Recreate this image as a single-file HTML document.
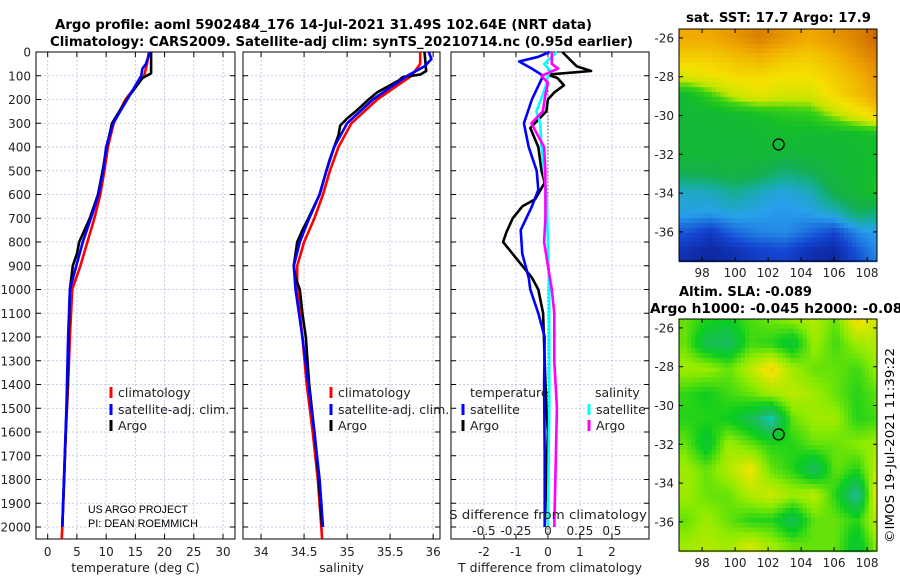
<!DOCTYPE html>
<html><head><meta charset="utf-8"><style>
html,body{margin:0;padding:0;background:#fff;}
svg{display:block;font-family:"DejaVu Sans","Liberation Sans",sans-serif;}
</style></head><body>
<svg id="s" width="900" height="580" viewBox="0 0 900 580" xmlns="http://www.w3.org/2000/svg">
<rect width="900" height="580" fill="#fff"/>
<g font-weight="bold" font-size="13" fill="#000">
<text x="55" y="29" textLength="537" lengthAdjust="spacingAndGlyphs">Argo profile: aoml 5902484_176 14-Jul-2021 31.49S 102.64E (NRT data)</text>
<text x="50" y="46" textLength="583" lengthAdjust="spacingAndGlyphs">Climatology: CARS2009. Satellite-adj clim: synTS_20210714.nc (0.95d earlier)</text>
</g>
<g id="panels"></g>
<g id="maps"></g>
<text x="686" y="22" font-weight="bold" font-size="13" textLength="185" lengthAdjust="spacingAndGlyphs">sat. SST: 17.7 Argo: 17.9</text>
<text x="679" y="296" font-weight="bold" font-size="13" textLength="133" lengthAdjust="spacingAndGlyphs">Altim. SLA: -0.089</text>
<text x="650" y="313" font-weight="bold" font-size="13" textLength="262" lengthAdjust="spacingAndGlyphs">Argo h1000: -0.045 h2000: -0.082</text>
<text transform="translate(894,543) rotate(-90)" font-size="12" textLength="195" lengthAdjust="spacingAndGlyphs">©IMOS 19-Jul-2021 11:39:22</text>
<g font-family="Liberation Sans, sans-serif" font-size="11" fill="#000">
<text x="88" y="513" textLength="100" lengthAdjust="spacingAndGlyphs">US ARGO PROJECT</text>
<text x="88" y="527" textLength="110" lengthAdjust="spacingAndGlyphs">PI: DEAN ROEMMICH</text>
</g>
</svg>
<script>
// ---------- data ----------
const depthTicks=[0,100,200,300,400,500,600,700,800,900,1000,1100,1200,1300,1400,1500,1600,1700,1800,1900,2000];
const tempTicks=[0,5,10,15,20,25,30];
const salTicks=[34,34.5,35,35.5,36];
const salTickLabels=["34","34.5","35","35.5","36"];
const tdiffTicks=[-2,-1,0,1,2];
const sdiffTicks=[-0.5,-0.25,0,0.25,0.5];
const sdiffLabels=["-0.5","-0.25","0","0.25","0.5"];

const tArgoDepth=[0,90,100,110,140,200,300,400,500,600,700,750,800,850,900,1000,1100,1200,1400,1600,1800,2000];
const tArgoVal=[17.7,17.7,16.9,16.2,15.3,13.5,11.0,10.1,9.4,8.6,7.2,6.3,5.4,5.0,4.3,3.8,3.7,3.6,3.4,3.1,2.8,2.5];
const tClimDepth=[0,50,100,200,300,400,500,600,700,800,900,1000,1200,1400,1600,1800,2000,2050];
const tClimVal=[17.3,17.0,16.5,13.3,11.3,10.3,9.7,9.0,8.0,6.8,5.6,4.2,3.8,3.5,3.1,2.8,2.5,2.4];
const tSatDepth=[0,50,70,100,200,300,400,500,600,700,800,900,1000,1200,1500,2000];
const tSatVal=[17.5,16.8,16.2,16.0,13.6,11.2,10.0,9.5,8.7,7.4,6.0,4.9,3.8,3.5,3.2,2.5];

const sArgoDepth=[0,80,95,105,120,170,200,250,280,310,350,400,450,500,600,700,750,800,900,950,1000,1100,1200,1400,1600,1800,2000];
const sArgoVal=[35.9,35.92,35.85,35.65,35.6,35.35,35.25,35.1,35.0,34.92,34.9,34.85,34.8,34.76,34.68,34.55,34.48,34.42,34.38,34.4,34.45,34.48,34.52,34.56,34.62,34.67,34.71];
const sClimDepth=[0,50,100,150,200,300,400,500,600,700,800,900,1000,1200,1400,1600,1800,2000,2050];
const sClimVal=[35.85,35.85,35.75,35.55,35.35,35.05,34.9,34.8,34.72,34.62,34.5,34.42,34.42,34.48,34.53,34.6,34.66,34.7,34.71];
const sSatDepth=[0,30,60,100,150,200,300,400,500,600,700,800,900,1000,1200,1400,1600,1800,2000];
const sSatVal=[35.95,35.98,35.9,35.7,35.5,35.3,35.0,34.85,34.76,34.68,34.56,34.45,34.38,34.4,34.48,34.55,34.62,34.68,34.72];

const dtArgoDepth=[0,60,80,95,110,140,170,200,250,320,400,500,550,620,650,700,760,800,850,900,950,1000,1100,1300,1500,1600,1800,2000];
const dtArgoVal=[0.45,0.9,1.35,0.0,0.3,0.5,0.2,0.0,-0.05,-0.55,-0.3,-0.2,-0.1,-0.4,-0.8,-1.1,-1.3,-1.4,-1.1,-0.8,-0.5,-0.3,-0.15,-0.1,-0.05,0.0,-0.05,-0.1];
const dtSatDepth=[0,20,40,70,100,200,300,400,500,580,650,750,850,950,1000,1100,1200,1400,1700,2000];
const dtSatVal=[0.05,-0.3,-0.9,-0.5,-0.15,-0.5,-0.75,-0.6,-0.35,-0.3,-0.5,-0.85,-0.8,-0.6,-0.55,-0.3,-0.1,-0.12,-0.1,-0.1];
const dsSatDepth=[0,50,80,100,150,250,300,400,600,800,1000,1500,2000];
const dsSatVal=[0.07,-0.03,0.02,0.0,-0.02,-0.09,-0.06,-0.05,-0.01,0.0,0.01,0.01,0.0];
const dsArgoDepth=[0,50,70,100,130,180,250,300,400,500,700,800,900,1000,1100,1300,1500,2000];
const dsArgoVal=[0.03,0.03,0.08,-0.05,0.0,-0.02,-0.04,-0.13,-0.03,-0.02,-0.02,-0.03,0.0,0.03,0.05,0.05,0.07,0.05];

// map fields (coarse grids)
const sstLon=[97,98.5,100,101.5,103,104.5,106,107.5,109];
const sstLat=[-26,-27,-28,-29,-30,-31,-32,-33,-34,-35,-36,-37,-38];
const sstGrid=[
[6.5,6.5,6.8,7.2,6.8,6.5,6.8,7.2,7.8],
[6.0,6.0,6.2,6.4,6.1,6.0,6.3,6.8,7.3],
[5.4,5.6,5.8,5.8,5.7,5.7,6.0,6.4,7.0],
[4.0,4.6,5.2,5.5,5.3,5.3,5.8,6.2,6.8],
[3.9,3.9,4.0,4.2,4.4,4.5,5.0,5.5,6.0],
[3.9,3.9,3.9,4.0,4.1,4.0,4.0,4.1,4.3],
[3.9,3.9,3.8,3.9,3.8,3.9,3.9,4.0,4.2],
[3.4,3.5,3.7,3.5,3.0,3.3,3.8,4.0,4.3],
[2.3,2.4,2.8,2.4,2.1,2.4,3.5,3.9,4.6],
[2.1,2.0,2.2,2.0,1.9,2.0,2.4,3.3,3.0],
[1.2,0.8,1.4,1.7,1.8,1.4,1.0,1.8,2.1],
[0.6,0.4,0.6,0.9,1.0,0.6,0.4,1.2,2.0],
[0.5,0.4,0.6,0.8,0.9,0.5,0.4,1.0,1.8]];
const slaLon=[97,98.3,99.6,100.9,102.2,103.5,104.8,106.1,107.4,108.7];
const slaLat=[-25.5,-26.8,-28.1,-29.4,-30.7,-32.0,-33.3,-34.6,-35.9,-37.2];
const slaGrid=[
[2.7,2.2,2.0,2.5,2.8,3.2,3.4,2.7,4.3,3.6],
[2.7,1.3,1.1,2.4,2.2,1.6,3.2,2.4,3.2,3.4],
[3.2,3.2,2.7,3.5,4.3,3.2,2.7,2.7,2.4,3.2],
[2.3,2.0,2.4,2.7,3.2,3.5,3.2,2.7,2.2,2.7],
[2.2,2.2,2.0,1.4,0.3,2.7,3.2,3.2,2.2,2.4],
[2.7,1.6,3.2,2.7,2.2,2.2,2.7,2.7,3.0,3.2],
[3.2,2.7,3.4,4.1,2.7,2.2,1.1,2.7,2.2,3.7],
[3.2,2.7,2.7,3.4,3.7,3.2,3.5,2.2,0.5,4.5],
[2.7,3.2,2.7,2.2,2.2,1.3,2.7,2.7,2.2,3.7],
[3.2,3.4,3.2,3.7,3.2,2.7,2.7,2.7,1.6,3.2]];
const mapLonTicks=[98,100,102,104,106,108];
const mapLatTicks=[-26,-28,-30,-32,-34,-36];
const argoLon=102.64, argoLat=-31.49;

// ---------- drawing ----------
const NS="http://www.w3.org/2000/svg";
const P=document.getElementById('panels');
const M=document.getElementById('maps');
function mk(tag,attrs,parent){const e=document.createElementNS(NS,tag);for(const k in attrs)e.setAttribute(k,attrs[k]);(parent||P).appendChild(e);return e;}
const top0=52,bot0=539;
const yD=d=>top0+d*(527-top0)/2000;
const panels=[
 {x0:36,x1:235,lo:-2,hi:32.05,ticks:tempTicks,labels:tempTicks.map(String),title:"temperature (deg C)",name:"temperature"},
 {x0:243,x1:440,lo:33.79,hi:36.08,ticks:salTicks,labels:salTickLabels,title:"salinity",name:"salinity"},
 {x0:451,x1:649,lo:-3.03,hi:3.16,ticks:tdiffTicks,labels:tdiffTicks.map(String),title:"T difference from climatology",name:"difference"}];
panels.forEach(p=>{p.x=v=>p.x0+(v-p.lo)*(p.x1-p.x0)/(p.hi-p.lo);});

panels.forEach((p,i)=>{
 const g=mk('g',{});
 
 
 depthTicks.forEach(d=>{
  const y=yD(d);
  const l=mk('line',{x1:p.x0,x2:p.x1,y1:y,y2:y,stroke:'#b8c0e0','stroke-width':0.8,'stroke-dasharray':'2,2'},g);
  
  
  mk('line',{x1:p.x0,x2:p.x0+5,y1:y,y2:y,stroke:'#000','stroke-width':1},g);
  mk('line',{x1:p.x1-5,x2:p.x1,y1:y,y2:y,stroke:'#000','stroke-width':1},g);
  if(i===0){const t=mk('text',{x:31,y:y+4.5,'text-anchor':'end','font-size':12,fill:'#222'},g);t.textContent=d;
   }
 });
 p.ticks.forEach((v,k)=>{
  const x=p.x(v);
  const l=mk('line',{x1:x,x2:x,y1:top0,y2:bot0,stroke:'#b8c0e0','stroke-width':0.8,'stroke-dasharray':'2,2'},g);
  
  
  mk('line',{x1:x,x2:x,y1:bot0-5,y2:bot0,stroke:'#000'},g);
  mk('line',{x1:x,x2:x,y1:top0,y2:top0+5,stroke:'#000'},g);
  const t=mk('text',{x:x,y:556,'text-anchor':'middle','font-size':12,fill:'#222'},g);t.textContent=p.labels[k];
  
 });
 const tt=mk('text',{x:(p.x0+p.x1)/2,y:572,'text-anchor':'middle','font-size':12.5,fill:'#222'},g);tt.textContent=p.title;
 
 const fr=mk('rect',{x:p.x0,y:top0,width:p.x1-p.x0,height:bot0-top0,fill:'none',stroke:'#000','stroke-width':1},g);
 
});

function series(p,depths,vals,color,name,scale){
 const pts=depths.map((d,i)=>p.x(vals[i]*(scale||1)).toFixed(1)+','+yD(d).toFixed(1)).join(' ');
 const l=mk('polyline',{points:pts,fill:'none',stroke:color,'stroke-width':2.6,'stroke-linejoin':'round'});
 
 
}
const zx=panels[2].x(0);
mk('line',{x1:zx,x2:zx,y1:top0,y2:bot0,stroke:'#555','stroke-width':1,'stroke-dasharray':'1.5,2'});
series(panels[0],tClimDepth,tClimVal,'#f00','temp-climatology-line');
series(panels[0],tArgoDepth,tArgoVal,'#000','temp-argo-line');
series(panels[0],tSatDepth,tSatVal,'#00f','temp-satellite-line');
series(panels[1],sClimDepth,sClimVal,'#f00','sal-climatology-line');
series(panels[1],sArgoDepth,sArgoVal,'#000','sal-argo-line');
series(panels[1],sSatDepth,sSatVal,'#00f','sal-satellite-line');
series(panels[2],dtArgoDepth,dtArgoVal,'#000','tdiff-argo-line');
series(panels[2],dtSatDepth,dtSatVal,'#00f','tdiff-satellite-line');
series(panels[2],dsSatDepth,dsSatVal,'#0ff','sdiff-satellite-line',4);
series(panels[2],dsArgoDepth,dsArgoVal,'#f0f','sdiff-argo-line',4);

const sl=mk('text',{x:449,y:519,'font-size':12.5,fill:'#222',textLength:198,lengthAdjust:'spacingAndGlyphs'});sl.textContent='S difference from climatology';

sdiffTicks.forEach((v,k)=>{const t=mk('text',{x:panels[2].x(v*4),y:535,'text-anchor':'middle','font-size':12,fill:'#222'});t.textContent=sdiffLabels[k];
 });

function legend(x,y,color,label){
 const g=mk('g',{});
 
 
 mk('line',{x1:x,x2:x,y1:y-10,y2:y+1,stroke:color,'stroke-width':3},g);
 const t=mk('text',{x:x+7,y:y,'font-size':12.5,fill:'#222'},g);t.textContent=label;
}
legend(111,397,'#f00','climatology');legend(111,414,'#00f','satellite-adj. clim.');legend(111,430,'#000','Argo');
legend(331,397,'#f00','climatology');legend(331,414,'#00f','satellite-adj. clim.');legend(331,430,'#000','Argo');
const lt=mk('text',{x:470,y:397,'font-size':12.5,fill:'#222'});lt.textContent='temperature';

const ls=mk('text',{x:595,y:397,'font-size':12.5,fill:'#222'});ls.textContent='salinity';

legend(463,414,'#00f','satellite');legend(463,430,'#000','Argo');
legend(589,414,'#0ff','satellite');legend(589,430,'#f0f','Argo');

// ---------- maps ----------
function interp(stops,v){
 if(v<=stops[0][0])return stops[0][1];
 for(let i=1;i<stops.length;i++){if(v<=stops[i][0]){const a=stops[i-1],b=stops[i],f=(v-a[0])/(b[0]-a[0]);
  return a[1].map((c,k)=>Math.round(c+(b[1][k]-c)*f));}}
 return stops[stops.length-1][1];
}
const sstStops=[[0,[10,20,130]],[1,[20,70,210]],[2,[40,160,235]],[2.8,[20,175,150]],[3.4,[20,175,80]],[4.2,[20,190,40]],[4.7,[60,210,20]],[5.1,[190,230,0]],[5.7,[245,225,0]],[6.5,[240,170,0]],[7.5,[210,110,0]],[8,[170,60,0]]];
const slaStops=[[0,[0,215,215]],[1,[30,185,110]],[2,[10,205,30]],[3,[140,235,0]],[4,[235,230,0]],[5,[245,160,0]]];
function bil(lons,lats,grid,lon,lat){
 let i=0;while(i<lons.length-2&&lon>lons[i+1])i++;
 let j=0;while(j<lats.length-2&&lat<lats[j+1])j++;
 let fx=Math.max(0,Math.min(1,(lon-lons[i])/(lons[i+1]-lons[i])));
 let fy=Math.max(0,Math.min(1,(lat-lats[j])/(lats[j+1]-lats[j])));
 const a=grid[j][i],b=grid[j][i+1],c=grid[j+1][i],d=grid[j+1][i+1];
 return a*(1-fx)*(1-fy)+b*fx*(1-fy)+c*(1-fx)*fy+d*fx*fy;
}
function drawMap(name,x0,x1,y0,y1,lat0,lat1,lons,lats,grid,stops){
 const lon0=96.6,lon1=108.6;
 const mx=v=>x0+(v-lon0)*(x1-x0)/(lon1-lon0);
 const my=v=>y0+(lat0-v)*(y1-y0)/(lat0-lat1);
 const g=mk('g',{},M);
 
 
 const step=0.25;
 for(let lat=lat0;lat>lat1-1e-6;lat-=step){
  for(let lon=lon0;lon<lon1-1e-6;lon+=step){
   const v=bil(lons,lats,grid,lon+step/2,lat-step/2);
   const c=interp(stops,v);
   const xa=mx(lon),ya=my(lat);
   mk('rect',{x:xa.toFixed(2),y:ya.toFixed(2),width:(mx(lon+step)-xa+0.4).toFixed(2),height:(my(lat-step)-ya+0.4).toFixed(2),fill:`rgb(${c[0]},${c[1]},${c[2]})`},g);
  }
 }
 mk('rect',{x:x0,y:y0,width:x1-x0,height:y1-y0,fill:'none',stroke:'#000','stroke-width':1},g);
 mapLonTicks.forEach(v=>{const x=mx(v);mk('line',{x1:x,x2:x,y1:y1,y2:y1-4,stroke:'#000'},g);mk('line',{x1:x,x2:x,y1:y0,y2:y0+4,stroke:'#000'},g);
  const t=mk('text',{x:x,y:y1+16,'text-anchor':'middle','font-size':12,fill:'#222'},g);t.textContent=v;
  });
 mapLatTicks.forEach(v=>{const y=my(v);mk('line',{x1:x0,x2:x0+4,y1:y,y2:y,stroke:'#000'},g);mk('line',{x1:x1-4,x2:x1,y1:y,y2:y,stroke:'#000'},g);
  const t=mk('text',{x:x0-5,y:y+4.5,'text-anchor':'end','font-size':12,fill:'#222'},g);t.textContent=v;
  });
 const c=mk('circle',{cx:mx(argoLon),cy:my(argoLat),r:5.5,fill:'none',stroke:'#000','stroke-width':1.3},g);
 
 
}
drawMap('sst-map',679,877,29,261,-25.54,-37.5,sstLon,sstLat,sstGrid,sstStops);
drawMap('sla-map',679,877,319,551,-25.54,-37.5,slaLon,slaLat,slaGrid,slaStops);
</script>
</body></html>
